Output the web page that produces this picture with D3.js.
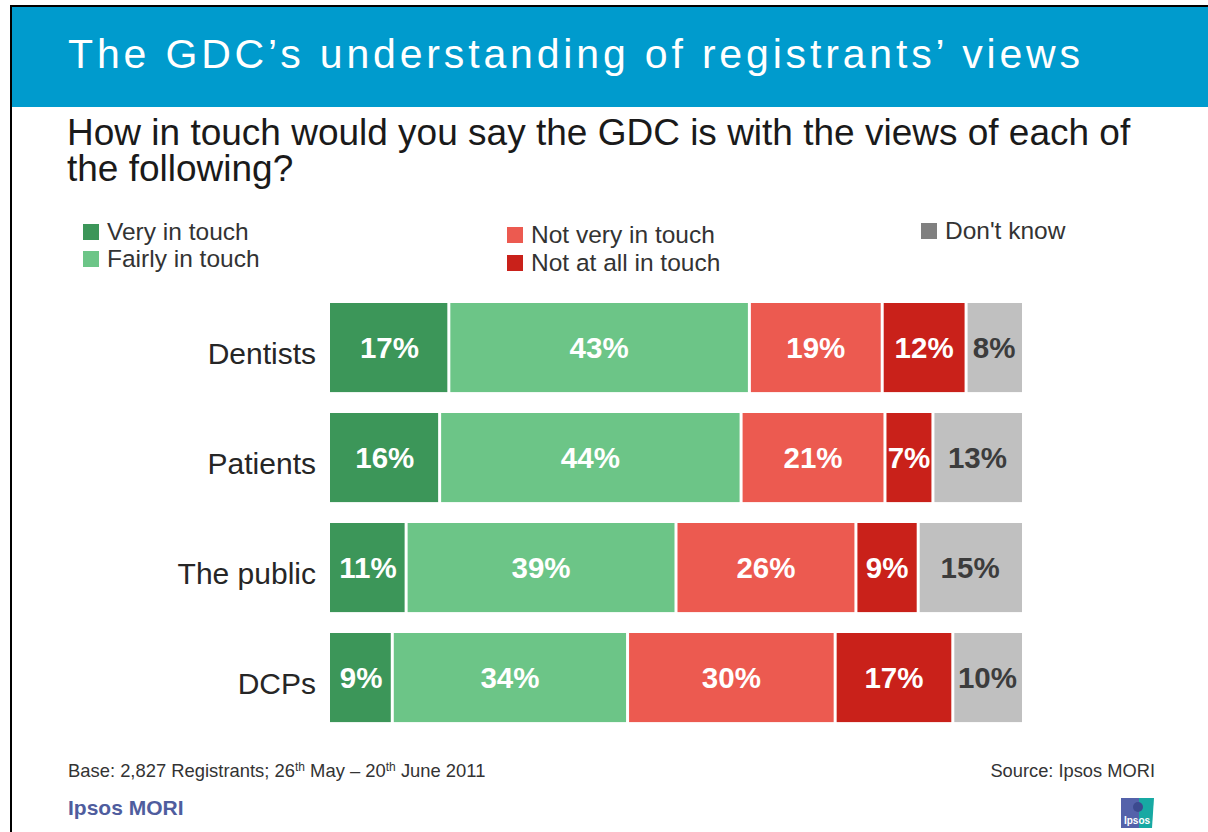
<!DOCTYPE html>
<html>
<head>
<meta charset="utf-8">
<script src="https://cdn.jsdelivr.net/npm/d3@7"></script>
<style>
  html, body { margin: 0; padding: 0; background: #fff; }
  svg { display: block; font-family: "Liberation Sans", Arial, Helvetica, sans-serif; }
</style>
</head>
<body>
<svg id="chart" width="1208" height="832"></svg>
<script>
// Survey groups (rows, top to bottom)
const groups = ["Dentists", "Patients", "The public", "DCPs"];

// Response options, in stacking order
const responses = ["Very in touch", "Fairly in touch", "Not very in touch", "Not at all in touch", "Don't know"];

// Percentages for each response, one value per group
const veryInTouch     = [17, 16, 11, 9];
const fairlyInTouch   = [43, 44, 39, 34];
const notVeryInTouch  = [19, 21, 26, 30];
const notAtAllInTouch = [12, 7, 9, 17];
const dontKnow        = [8, 13, 15, 10];

const seriesValues = [veryInTouch, fairlyInTouch, notVeryInTouch, notAtAllInTouch, dontKnow];

const barColors    = ["#3c9659", "#6cc587", "#ec5a50", "#c9211a", "#c0c0c0"];
const legendColors = ["#3c9659", "#6cc587", "#ec5a50", "#c9211a", "#808080"];
const labelColors  = ["#ffffff", "#ffffff", "#ffffff", "#ffffff", "#3c3c3c"];

const svg = d3.select("#chart");

// ---- Header band and frame ----
svg.append("rect").attr("x", 12).attr("y", 7).attr("width", 1196).attr("height", 100).attr("fill", "#009bcd");
svg.append("rect").attr("x", 10).attr("y", 5).attr("width", 1198).attr("height", 2).attr("fill", "#000");
svg.append("rect").attr("x", 10).attr("y", 5).attr("width", 2).attr("height", 827).attr("fill", "#000");

svg.append("text")
  .attr("x", 68).attr("y", 68)
  .attr("fill", "#fff")
  .attr("font-size", 41)
  .attr("textLength", 1012)
  .attr("lengthAdjust", "spacing")
  .text("The GDC\u2019s understanding of registrants\u2019 views");

// ---- Question ----
const question = svg.append("text").attr("fill", "#1a1a1a").attr("font-size", 37);
question.append("tspan").attr("x", 67).attr("y", 145).text("How in touch would you say the GDC is with the views of each of");
question.append("tspan").attr("x", 67).attr("y", 181).text("the following?");

// ---- Legend ----
const legendPos = [
  { x: 83,  y: 224 },
  { x: 83,  y: 251 },
  { x: 507, y: 227 },
  { x: 507, y: 255 },
  { x: 921, y: 223 }
];
const legend = svg.append("g").selectAll("g")
  .data(responses)
  .join("g")
  .attr("transform", (d, i) => `translate(${legendPos[i].x},${legendPos[i].y})`);
legend.append("rect").attr("width", 16).attr("height", 16).attr("fill", (d, i) => legendColors[i]);
legend.append("text")
  .attr("x", 24).attr("y", 16)
  .attr("font-size", 24.5)
  .attr("fill", "#333")
  .text(d => d);

// ---- Bars ----
const y = d3.scaleBand()
  .domain(groups)
  .range([303, 303 + 110 * (groups.length - 0.19)])
  .paddingInner(0.19)
  .paddingOuter(0);

const rows = groups.map((g, gi) => {
  let acc = 0;
  const total = d3.sum(seriesValues, s => s[gi]);
  const segs = seriesValues.map((s, si) => {
    const seg = { group: g, series: si, value: s[gi], start: acc, end: acc + s[gi], total };
    acc += s[gi];
    return seg;
  });
  return { group: g, total, segs };
});

const barLeft = 330, barRight = 1022;
const gap = 3;

const rowG = svg.append("g").selectAll("g")
  .data(rows)
  .join("g")
  .attr("transform", d => `translate(0,${y(d.group)})`);

rowG.each(function(row) {
  const x = d3.scaleLinear().domain([0, row.total]).range([barLeft, barRight]);
  const g = d3.select(this);
  const n = row.segs.length;
  g.selectAll("rect")
    .data(row.segs)
    .join("rect")
    .attr("x", (d, i) => x(d.start) + (i > 0 ? gap / 2 : 0))
    .attr("width", (d, i) => x(d.end) - x(d.start) - (i > 0 ? gap / 2 : 0) - (i < n - 1 ? gap / 2 : 0))
    .attr("y", 0)
    .attr("height", y.bandwidth())
    .attr("fill", d => barColors[d.series]);

  g.selectAll("text.val")
    .data(row.segs)
    .join("text")
    .attr("class", "val")
    .attr("x", d => (x(d.start) + x(d.end)) / 2)
    .attr("y", y.bandwidth() / 2)
    .attr("dy", "0.36em")
    .attr("text-anchor", "middle")
    .attr("font-size", 29.5)
    .attr("font-weight", "bold")
    .attr("fill", d => labelColors[d.series])
    .text(d => d.value + "%");
});

// Category axis labels
const yAxis = d3.axisLeft(y).tickSize(0).tickPadding(0);
const axisG = svg.append("g").attr("transform", "translate(316,7)").call(yAxis);
axisG.select(".domain").remove();
axisG.selectAll("text")
  .attr("font-size", 30)
  .attr("font-family", "Liberation Sans, Arial, sans-serif")
  .attr("fill", "#262626");

// ---- Footer ----
const base = svg.append("text").attr("x", 68).attr("y", 777).attr("font-size", 18.4).attr("fill", "#333");
base.append("tspan").text("Base: 2,827 Registrants; 26");
base.append("tspan").attr("font-size", 12).attr("dy", -6).text("th");
base.append("tspan").attr("dy", 6).text(" May \u2013 20");
base.append("tspan").attr("font-size", 12).attr("dy", -6).text("th");
base.append("tspan").attr("dy", 6).text(" June 2011");

svg.append("text")
  .attr("x", 1155).attr("y", 777)
  .attr("text-anchor", "end")
  .attr("font-size", 18.3)
  .attr("fill", "#333")
  .text("Source: Ipsos MORI");

svg.append("text")
  .attr("x", 68).attr("y", 815)
  .attr("font-size", 21)
  .attr("font-weight", "bold")
  .attr("fill", "#4f5d9e")
  .text("Ipsos MORI");

// Small Ipsos mark
const mark = svg.append("g").attr("transform", "translate(1121,798)");
mark.append("path").attr("d", "M0,0 H18 V30 H0 Z").attr("fill", "#5462aa");
mark.append("path").attr("d", "M18,0 H33 L31,30 H18 Z").attr("fill", "#17a9a3");
mark.append("circle").attr("cx", 17).attr("cy", 9).attr("r", 5).attr("fill", "#3c4a8f");
mark.append("text")
  .attr("x", 16).attr("y", 26)
  .attr("text-anchor", "middle")
  .attr("font-size", 10)
  .attr("font-weight", "bold")
  .attr("fill", "#fff")
  .text("Ipsos");
</script>
</body>
</html>
